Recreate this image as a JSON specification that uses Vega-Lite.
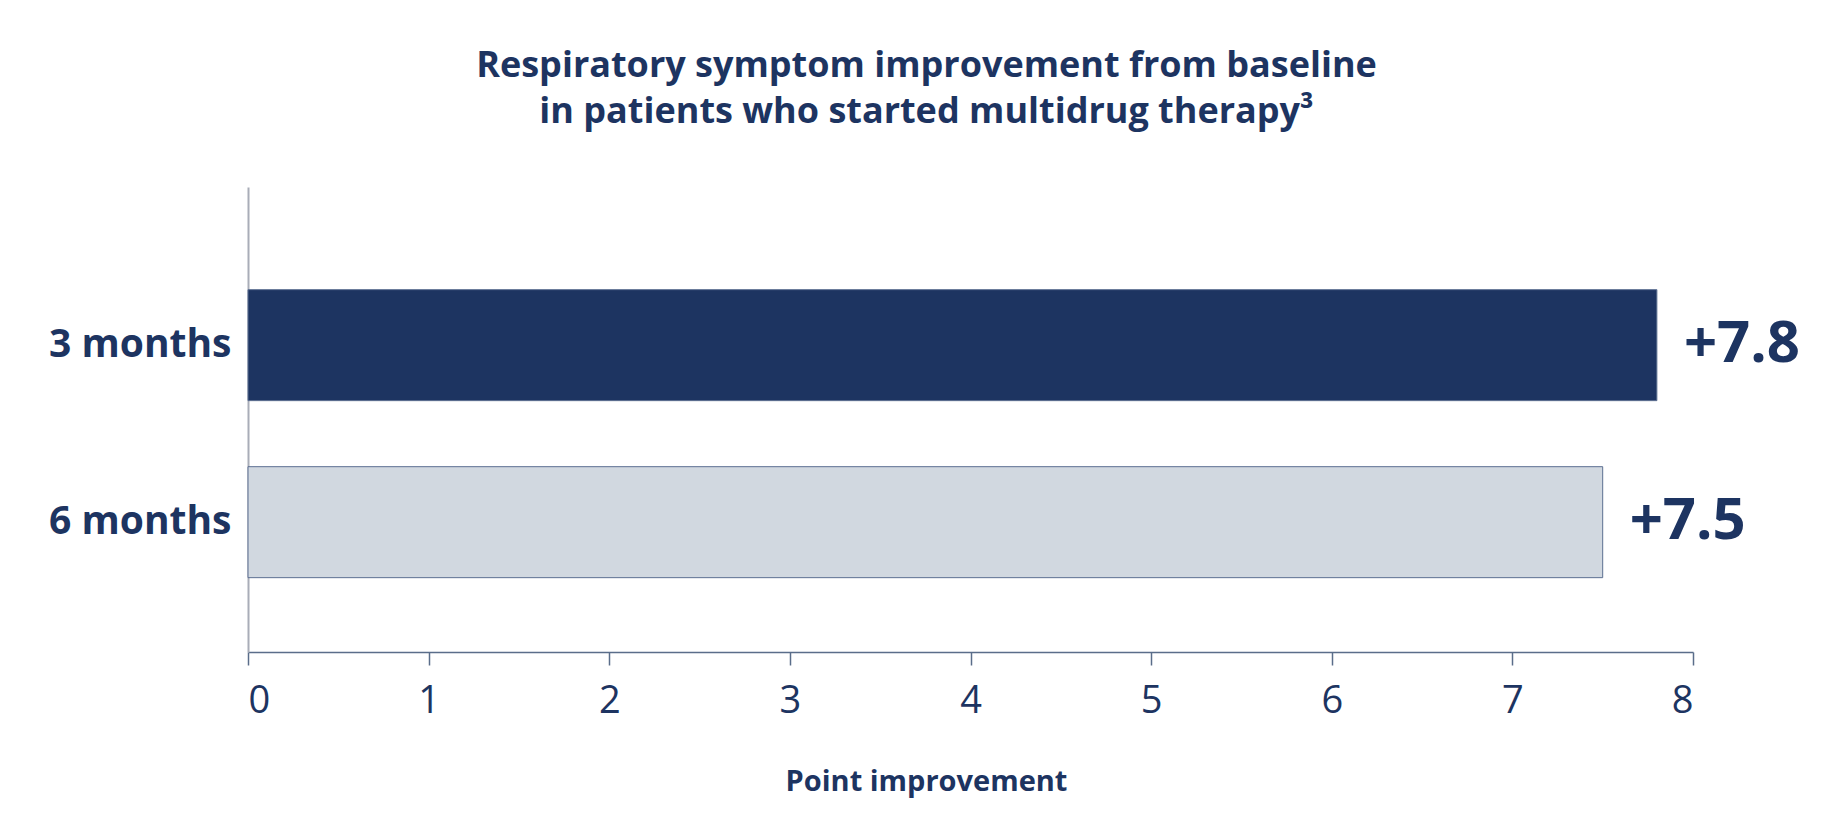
{
  "$schema": "https://vega.github.io/schema/vega-lite/v6.json",
  "background": "#ffffff",
  "autosize": {"type": "none"},
  "padding": {"left": 248, "top": 187, "right": 155, "bottom": 188},
  "width": 1445,
  "height": 465,
  "title": {
    "text": ["Respiratory symptom improvement from baseline", "in patients who started multidrug therapy³"],
    "font": "Open Sans",
    "fontSize": 36,
    "fontWeight": "bold",
    "color": "#1D3461",
    "lineHeight": 46,
    "anchor": "middle",
    "dx": -44,
    "offset": 56
  },
  "data": {
    "values": [
      {"period": "3 months", "value": 7.8},
      {"period": "6 months", "value": 7.5}
    ]
  },
  "encoding": {
    "y": {
      "field": "period",
      "type": "nominal",
      "sort": ["3 months", "6 months"],
      "title": null,
      "scale": {"paddingInner": 0.373, "paddingOuter": 0.5, "align": 0.58},
      "axis": {
        "ticks": false,
        "domainColor": "#A9ADB8",
        "domainWidth": 2,
        "labelFont": "Open Sans",
        "labelFontSize": 39,
        "labelFontWeight": "bold",
        "labelColor": "#1D3461",
        "labelPadding": 17,
        "labelLimit": 400
      }
    },
    "x": {
      "field": "value",
      "type": "quantitative",
      "title": "Point improvement",
      "scale": {"domain": [0, 8], "nice": false},
      "axis": {
        "values": [0, 1, 2, 3, 4, 5, 6, 7, 8],
        "grid": false,
        "domainColor": "#5A6D8A",
        "domainWidth": 1.5,
        "tickColor": "#5A6D8A",
        "tickWidth": 1.5,
        "tickSize": 13,
        "labelFont": "Open Sans",
        "labelFontSize": 38,
        "labelFontWeight": "normal",
        "labelColor": "#1D3461",
        "labelPadding": 17,
        "titleFont": "Open Sans",
        "titleFontSize": 29,
        "titleFontWeight": "bold",
        "titleColor": "#1D3461",
        "titlePadding": 47,
        "titleX": 678
      }
    }
  },
  "layer": [
    {
      "mark": {"type": "bar", "stroke": "#5C6F91", "strokeWidth": 1},
      "encoding": {
        "color": {
          "field": "period",
          "type": "nominal",
          "scale": {"domain": ["3 months", "6 months"], "range": ["#1D3461", "#D1D8E0"]},
          "legend": null
        }
      }
    },
    {
      "mark": {
        "type": "text",
        "align": "left",
        "baseline": "middle",
        "dx": 27,
        "font": "Open Sans",
        "fontSize": 58,
        "fontWeight": "bold",
        "color": "#1D3461"
      },
      "encoding": {
        "text": {"field": "value", "type": "quantitative", "format": "+.1f"}
      }
    }
  ],
  "config": {
    "view": {"stroke": null}
  }
}
